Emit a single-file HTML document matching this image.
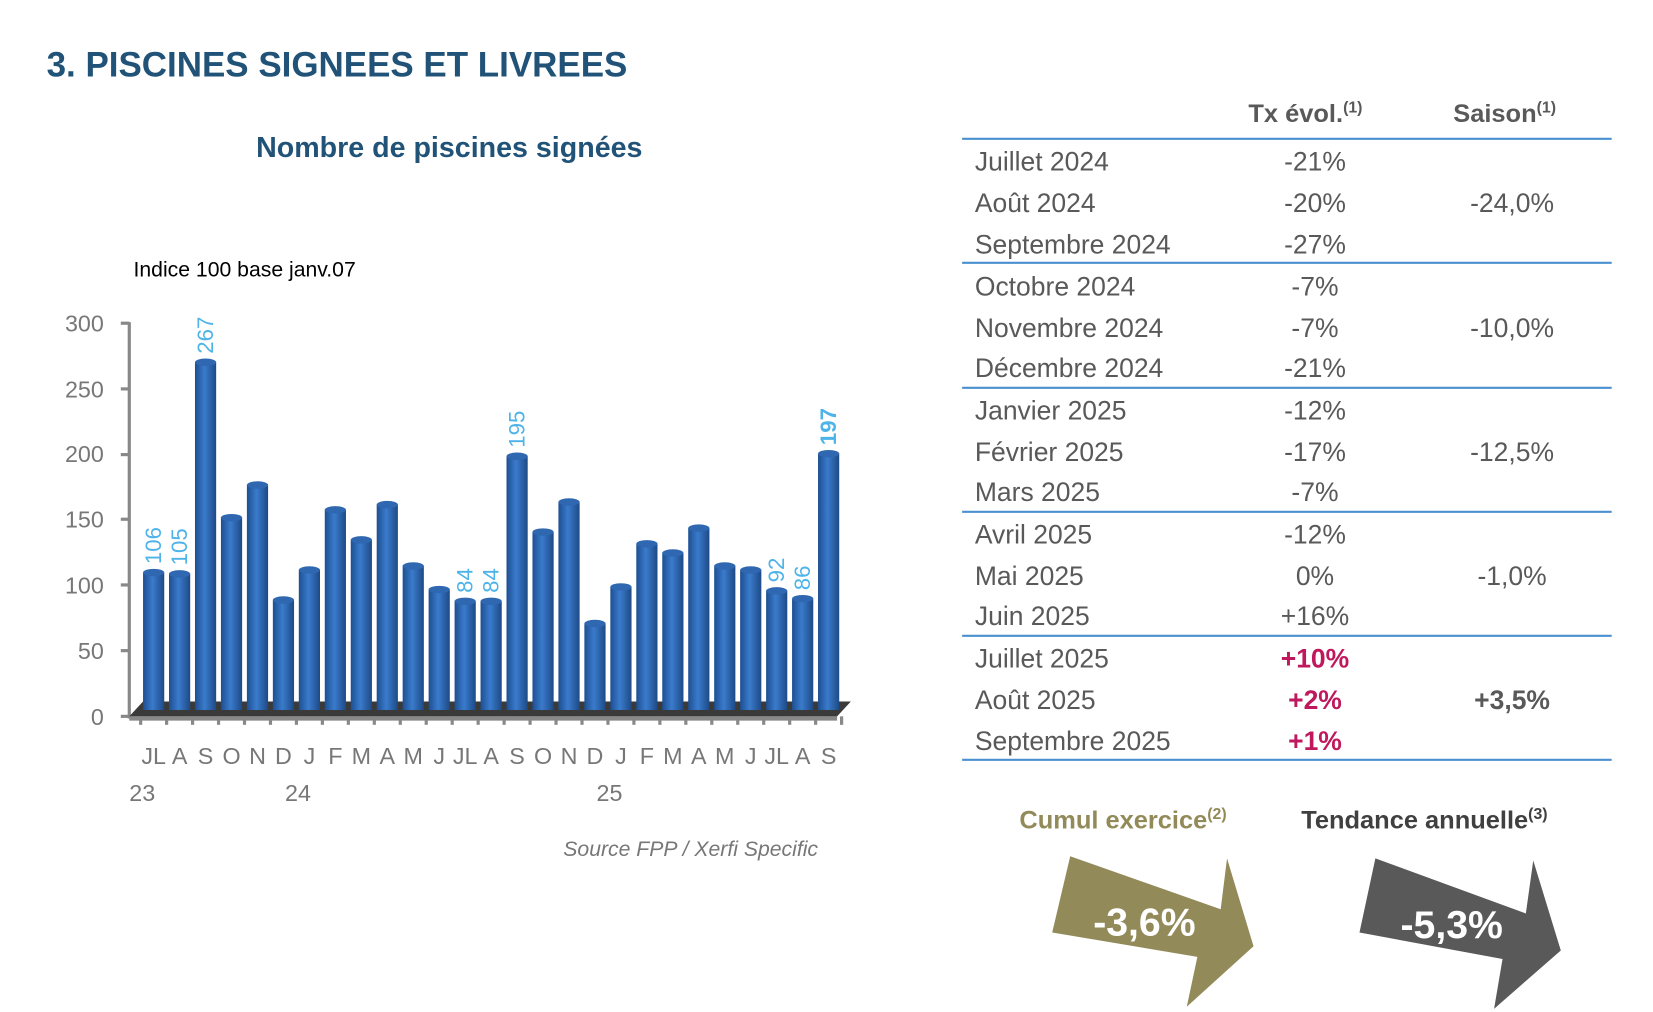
<!DOCTYPE html>
<html><head><meta charset="utf-8"><style>
html,body{margin:0;padding:0;background:#fff;}
svg{display:block;}
text{font-family:"Liberation Sans",sans-serif;}
</style></head><body>
<svg width="1653" height="1012" viewBox="0 0 1560 955" preserveAspectRatio="none" xmlns="http://www.w3.org/2000/svg">
<defs>
<linearGradient id="bar" x1="0" x2="1" y1="0" y2="0">
<stop offset="0" stop-color="#1d4f91"/><stop offset="0.45" stop-color="#3a7bcc"/><stop offset="1" stop-color="#1d4a86"/>
</linearGradient>
</defs>
<text x="44" y="72" font-size="33" font-weight="bold" fill="#215378">3. PISCINES SIGNEES ET LIVREES</text>
<text x="424" y="148" font-size="27" font-weight="bold" fill="#215378" text-anchor="middle">Nombre de piscines signées</text>
<text x="126" y="261" font-size="20" fill="#000">Indice 100 base janv.07</text>
<g fill="#777" font-size="22" text-anchor="end">
<text x="98" y="313">300</text><text x="98" y="375">250</text><text x="98" y="436">200</text><text x="98" y="498">150</text><text x="98" y="560">100</text><text x="98" y="622">50</text><text x="98" y="684">0</text>
</g>
<g stroke="#888" stroke-width="3">
<line x1="122" y1="304" x2="122" y2="678"/>
<line x1="114" y1="305" x2="122" y2="305"/><line x1="114" y1="367" x2="122" y2="367"/><line x1="114" y1="429" x2="122" y2="429"/><line x1="114" y1="490" x2="122" y2="490"/><line x1="114" y1="552" x2="122" y2="552"/><line x1="114" y1="614" x2="122" y2="614"/><line x1="114" y1="676" x2="122" y2="676"/>
</g>
<polygon points="122,676 790,676 803,662 135,662" fill="#3a3a3a"/>
<polygon points="122,676 790,676 790,680 122,680" fill="#888"/>
<g id="bars"></g>
<g id="ticks" stroke="#888" stroke-width="3"></g>
<g id="lbl" fill="#4db3e8" font-size="21"></g>
<g id="xl" fill="#777" font-size="22" text-anchor="middle"></g>
<g fill="#777" font-size="22"><text x="122" y="756">23</text><text x="269" y="756">24</text><text x="563" y="756">25</text></g>
<text x="772" y="808" font-size="20" font-style="italic" fill="#777" text-anchor="end">Source FPP / Xerfi Specific</text>

<g font-size="24" font-weight="bold" fill="#595959" text-anchor="middle">
<text x="1232" y="115">Tx évol.<tspan font-size="15" dy="-9">(1)</tspan></text>
<text x="1420" y="115">Saison<tspan font-size="15" dy="-9">(1)</tspan></text>
</g>
<g stroke="#4a90d0" stroke-width="2">
<line x1="908" y1="131" x2="1521" y2="131"/><line x1="908" y1="248" x2="1521" y2="248"/><line x1="908" y1="366" x2="1521" y2="366"/><line x1="908" y1="483" x2="1521" y2="483"/><line x1="908" y1="600" x2="1521" y2="600"/><line x1="908" y1="717" x2="1521" y2="717"/>
</g>
<g font-size="25" fill="#595959">
<text x="920" y="161">Juillet 2024</text><text x="920" y="200">Août 2024</text><text x="920" y="239">Septembre 2024</text>
<text x="920" y="279">Octobre 2024</text><text x="920" y="318">Novembre 2024</text><text x="920" y="356">Décembre 2024</text>
<text x="920" y="396">Janvier 2025</text><text x="920" y="435">Février 2025</text><text x="920" y="473">Mars 2025</text>
<text x="920" y="513">Avril 2025</text><text x="920" y="552">Mai 2025</text><text x="920" y="590">Juin 2025</text>
<text x="920" y="630">Juillet 2025</text><text x="920" y="669">Août 2025</text><text x="920" y="708">Septembre 2025</text>
</g>
<g font-size="25" fill="#595959" text-anchor="middle">
<text x="1241" y="161">-21%</text><text x="1241" y="200">-20%</text><text x="1241" y="239">-27%</text>
<text x="1241" y="279">-7%</text><text x="1241" y="318">-7%</text><text x="1241" y="356">-21%</text>
<text x="1241" y="396">-12%</text><text x="1241" y="435">-17%</text><text x="1241" y="473">-7%</text>
<text x="1241" y="513">-12%</text><text x="1241" y="552">0%</text><text x="1241" y="590">+16%</text>
<text x="1427" y="200">-24,0%</text><text x="1427" y="318">-10,0%</text><text x="1427" y="435">-12,5%</text><text x="1427" y="552">-1,0%</text>
<text x="1427" y="669" font-weight="bold">+3,5%</text>
</g>
<g font-size="25" fill="#c0185c" font-weight="bold" text-anchor="middle">
<text x="1241" y="630">+10%</text><text x="1241" y="669">+2%</text><text x="1241" y="708">+1%</text>
</g>
<text x="962" y="782" font-size="24" font-weight="bold" fill="#938a5a">Cumul exercice<tspan font-size="15" dy="-9">(2)</tspan></text>
<text x="1228" y="782" font-size="24" font-weight="bold" fill="#404040">Tendance annuelle<tspan font-size="15" dy="-9">(3)</tspan></text>
<polygon points="1010,808 1152,858 1158,810 1183,893 1120,950 1130,903 993,880" fill="#938a5a"/>
<polygon points="1298,810 1440,862 1447,812 1473,897 1410,952 1418,905 1283,880" fill="#595959"/>
<text x="1080" y="883" font-size="37" font-weight="bold" fill="#fff" text-anchor="middle">-3,6%</text>
<text x="1370" y="885" font-size="37" font-weight="bold" fill="#fff" text-anchor="middle">-5,3%</text>
</svg>
<script>
(function(){
var v=[106,105,267,148,173,85,108,154,131,158,111,93,84,84,195,137,160,67,95,128,121,140,111,108,92,86,197];
var xl=["JL","A","S","O","N","D","J","F","M","A","M","J","JL","A","S","O","N","D","J","F","M","A","M","J","JL","A","S"];
var lab={0:1,1:1,2:1,12:1,13:1,14:1,24:1,25:1,26:1};
var ns="http://www.w3.org/2000/svg";
function el(t,a,p,txt){var e=document.createElementNS(ns,t);for(var k in a)e.setAttribute(k,a[k]);if(txt)e.textContent=txt;document.getElementById(p).appendChild(e);return e;}
for(var i=0;i<v.length;i++){
 var cx=145+24.5*i, ty=675-v[i]*1.233-4, bot=670;
 el("rect",{x:cx-10,y:ty,width:20,height:bot-ty,fill:"url(#bar)"},"bars");
 el("ellipse",{cx:cx,cy:ty,rx:10,ry:3.5,fill:"#2f67b0"},"bars");
 el("line",{x1:cx-12.25,y1:676,x2:cx-12.25,y2:684},"ticks");
 if(lab[i]){var t=el("text",{x:cx+7,y:ty-8,transform:"rotate(-90 "+(cx+7)+" "+(ty-8)+")"},"lbl",String(v[i]));if(i==26)t.setAttribute("font-weight","bold");}
 el("text",{x:cx,y:721},"xl",xl[i]);
}
el("line",{x1:145+24.5*27-12.25,y1:676,x2:145+24.5*27-12.25,y2:684},"ticks");
})();
</script>
</body></html>
